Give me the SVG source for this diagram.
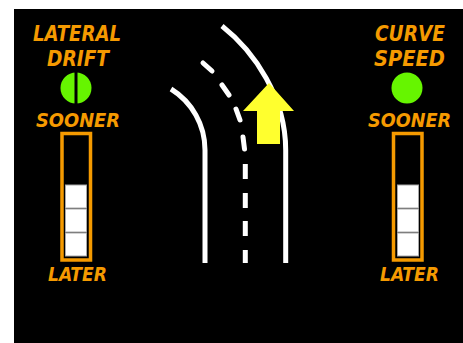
<svg xmlns="http://www.w3.org/2000/svg" width="463" height="343" viewBox="0 0 463 343">
<style>
.t{font-family:"DejaVu Sans",sans-serif;font-stretch:condensed;font-style:oblique;font-weight:700;fill:#f59a00}
.h{font-size:21px}
.s{font-size:19px}
.bar{fill:none;stroke:#f59a00;stroke-width:3.5}
.blk{fill:#fff;stroke:#a8a8a8;stroke-width:1}
.road{fill:none;stroke:#fff;stroke-width:5}
.dash{fill:none;stroke:#fff;stroke-width:5;stroke-linecap:round}
.lamp{fill:#66f500}
</style>
<rect id="background" x="14" y="9" width="449" height="334" fill="#000"/>
<g id="connectors">
<path class="road" d="M171 89C192 102 205 125 205 150V263"/>
<path class="road" d="M222 26C255 52 285.700 98 285.700 150V263"/>
<path class="dash" d="M203 63L212 71M222 85L229 95M236 109L240 120M243 137L244.500 149"/>
<path class="road" d="M245.300 164V179M245.300 193V208M245.300 221V236M245.300 250V263"/>
</g>
<g id="arrow"><polygon points="269,83 294,111 280,111 280,144 257,144 257,111 243,111" fill="#ffff2e"/></g>
<g id="lateral-drift">
<text class="t h" x="33" y="41" textLength="88" lengthAdjust="spacingAndGlyphs">LATERAL</text>
<text class="t h" x="47" y="66" textLength="62" lengthAdjust="spacingAndGlyphs">DRIFT</text>
<circle class="lamp" cx="76" cy="88" r="15.500"/>
<rect x="74.500" y="71" width="3" height="34" fill="#000"/>
</g>
<g id="lateral-scale">
<text class="t s" x="36" y="127" textLength="84" lengthAdjust="spacingAndGlyphs">SOONER</text>
<rect class="bar" x="62" y="133.500" width="28.500" height="126.500"/>
<rect class="blk" x="65.500" y="185" width="21" height="23"/>
<rect class="blk" x="65.500" y="209" width="21" height="23"/>
<rect class="blk" x="65.500" y="233" width="21" height="23"/>
<text class="t s" x="48" y="281" textLength="59" lengthAdjust="spacingAndGlyphs">LATER</text>
</g>
<g id="curve-speed">
<text class="t h" x="375" y="41" textLength="70" lengthAdjust="spacingAndGlyphs">CURVE</text>
<text class="t h" x="374" y="66" textLength="71" lengthAdjust="spacingAndGlyphs">SPEED</text>
<circle class="lamp" cx="407" cy="88" r="15.500"/>
</g>
<g id="speed-scale">
<text class="t s" x="368" y="127" textLength="83" lengthAdjust="spacingAndGlyphs">SOONER</text>
<rect class="bar" x="393.500" y="133.500" width="28.500" height="126.500"/>
<rect class="blk" x="397.500" y="185" width="21" height="23"/>
<rect class="blk" x="397.500" y="209" width="21" height="23"/>
<rect class="blk" x="397.500" y="233" width="21" height="23"/>
<text class="t s" x="380" y="281" textLength="59" lengthAdjust="spacingAndGlyphs">LATER</text>
</g>
</svg>
